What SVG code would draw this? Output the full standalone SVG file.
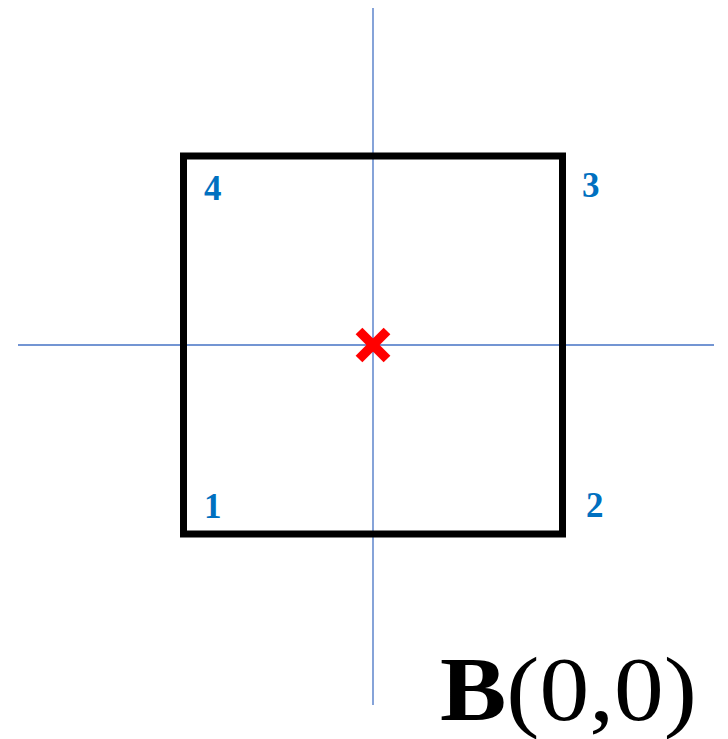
<svg xmlns="http://www.w3.org/2000/svg" width="728" height="739" viewBox="0 0 728 739">
<style>
.axis{stroke:#4472C4;stroke-width:1.3;fill:none}
.num{font-family:"Liberation Serif","DejaVu Serif",serif;font-weight:bold;font-size:35px;fill:#0070C0}
.title{font-family:"Liberation Serif","DejaVu Serif",serif;font-size:90px;fill:#000}
</style>
<rect width="728" height="739" fill="#fff"/>
<g id="axes">
<line class="axis" x1="373" y1="8" x2="373" y2="705"/>
<line class="axis" x1="18" y1="345" x2="714" y2="345"/>
</g>
<g id="square">
<rect x="183.5" y="156" width="379" height="378" fill="none" stroke="#000" stroke-width="7"/>
</g>
<g id="center">
<line x1="359" y1="331" x2="387" y2="359" stroke="#FF0000" stroke-width="9.5"/>
<line x1="387" y1="331" x2="359" y2="359" stroke="#FF0000" stroke-width="9.5"/>
</g>
<g id="labels">
<text class="num" x="204" y="200">4</text>
<text class="num" x="582" y="197">3</text>
<text class="num" x="204" y="518">1</text>
<text class="num" x="586" y="517">2</text>
</g>
<text class="title" x="440" y="720" textLength="257" lengthAdjust="spacingAndGlyphs"><tspan font-weight="bold">B</tspan>(0,0)</text>
</svg>
